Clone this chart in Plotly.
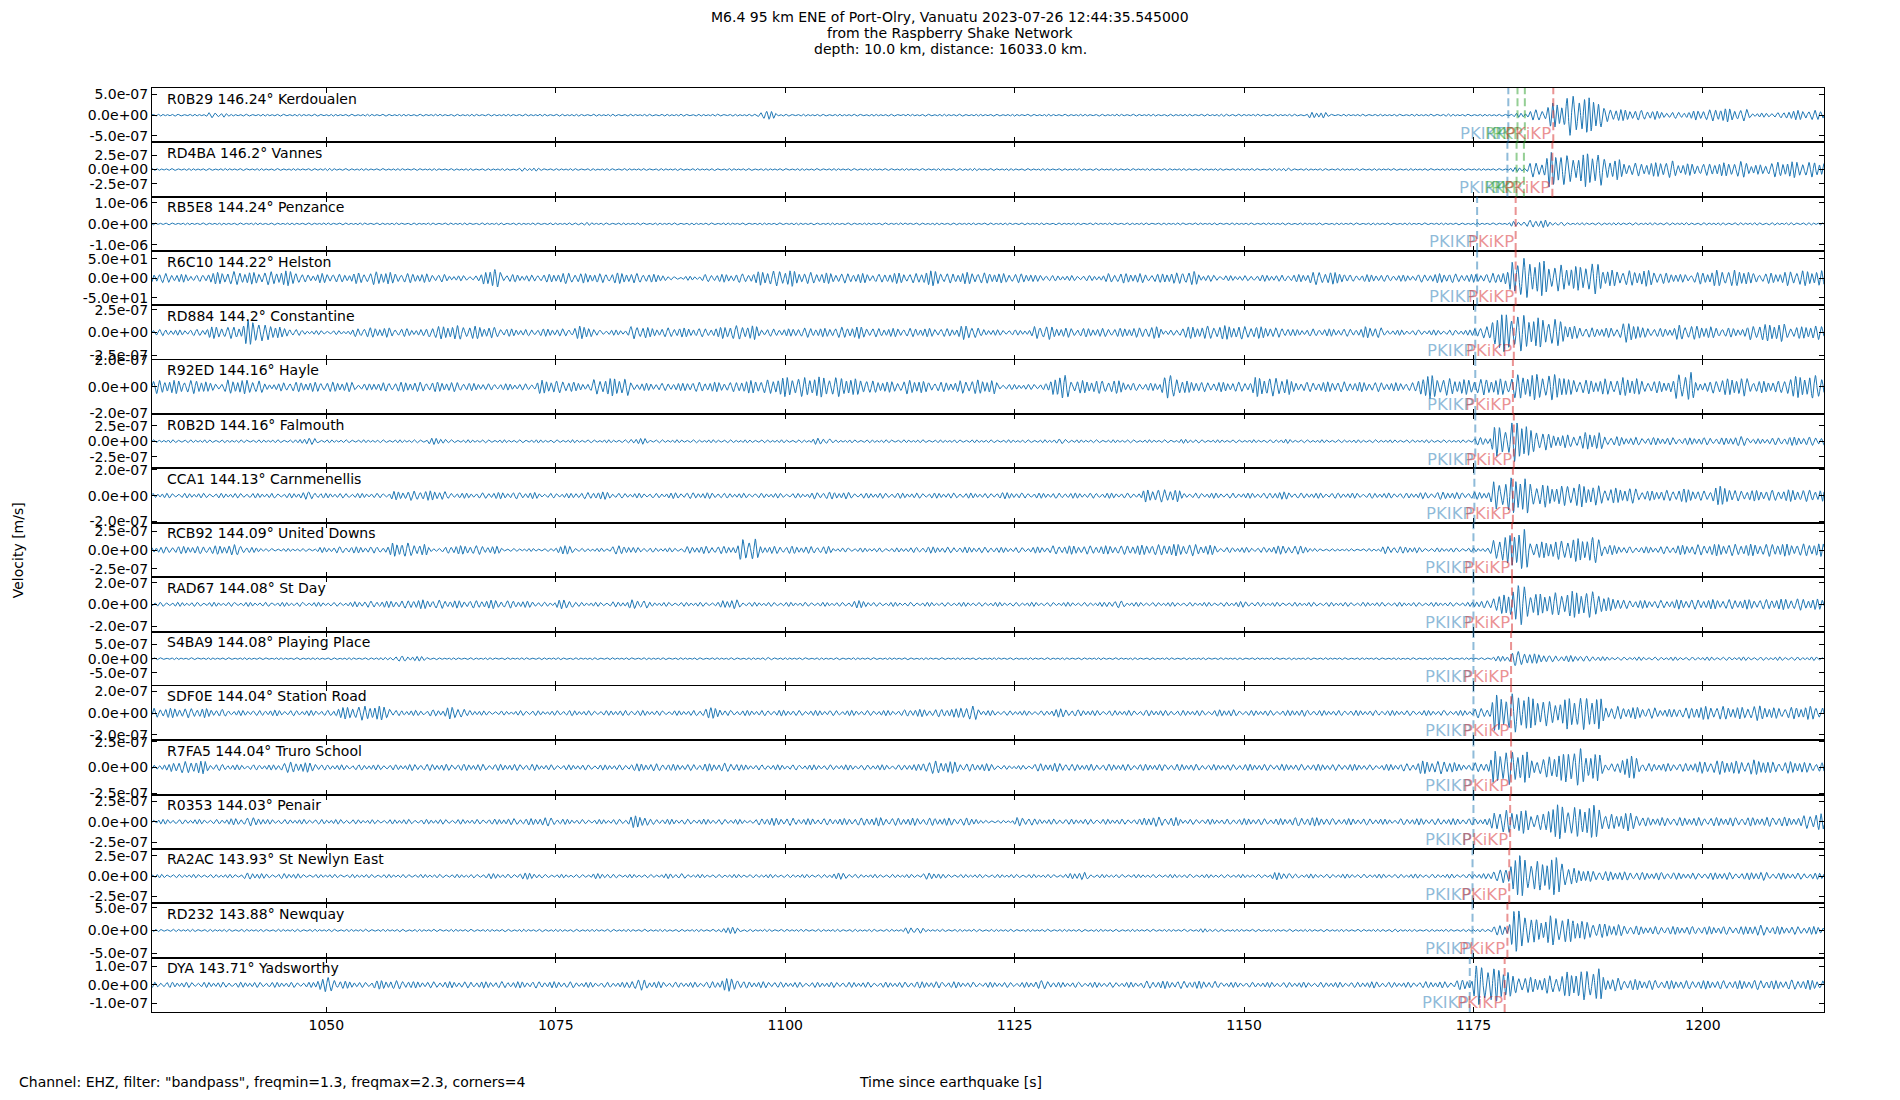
import numpy as np
import plotly.graph_objects as go
from plotly.subplots import make_subplots

# time window (s since origin); envelopes are given in 2 s blocks from t_start
t_start, t_end = 1031.0, 1213.2
block = 2.0

stations = [
    "R0B29 146.24° Kerdoualen", "RD4BA 146.2° Vannes", "RB5E8 144.24° Penzance",
    "R6C10 144.22° Helston", "RD884 144.2° Constantine", "R92ED 144.16° Hayle",
    "R0B2D 144.16° Falmouth", "CCA1 144.13° Carnmenellis", "RCB92 144.09° United Downs",
    "RAD67 144.08° St Day", "S4BA9 144.08° Playing Place", "SDF0E 144.04° Station Road",
    "R7FA5 144.04° Truro School", "R0353 144.03° Penair", "RA2AC 143.93° St Newlyn East",
    "RD232 143.88° Newquay", "DYA 143.71° Yadsworthy",
]

# y tick step and axis half range per station
ytick = [5e-7, 2.5e-7, 1e-6, 50, 2.5e-7, 2e-7, 2.5e-7, 2e-7, 2.5e-7,
         2e-7, 5e-7, 2e-7, 2.5e-7, 2.5e-7, 2.5e-7, 5e-7, 1e-7]
ymax = [6.6e-7, 4.7e-7, 1.3e-6, 70, 3.0e-7, 2.05e-7, 4.4e-7, 2.1e-7, 3.6e-7,
        2.5e-7, 9.6e-7, 2.5e-7, 2.65e-7, 3.35e-7, 3.35e-7, 6.0e-7, 1.45e-7]

# predicted arrivals (s)
t_PKIKP = [1178.8, 1178.7, 1175.4, 1175.4, 1175.2, 1175.2, 1175.2, 1175.1, 1175.0,
           1175.0, 1175.0, 1175.0, 1175.0, 1175.0, 1174.9, 1174.9, 1174.6]
t_PKiKP = [1183.7, 1183.6, 1179.6, 1179.6, 1179.4, 1179.3, 1179.4, 1179.3, 1179.2,
           1179.2, 1179.1, 1179.1, 1179.1, 1179.0, 1178.9, 1178.7, 1178.4]
t_PKP = [[1179.8, 1180.6], [1179.7, 1180.5]]

# peak amplitude per 2 s block, percent of the panel half range
env_kerdoualen = [4,4,4,10,4,4,4,4,4,4, 4,4,4,4,4,4,4,4,4,4, 4,4,4,4,4,4,4,4,4,4,
                  4,4,4,15,4,4,4,4,4,4, 4,4,4,4,4,4,4,4,4,4, 4,4,4,4,4,4,4,4,5,4,
                  4,4,4,12,4,4,4,4,4,4, 5,4,4,4,8,20,45,75,65,25, 20,18,12,12,20,25,22,8,10,18,18]
env_vannes = [4,4,4,4,4,4,4,4,4,5, 4,4,4,4,4,4,4,4,4,4, 7,4,4,4,4,4,4,4,4,4,
              4,4,4,4,4,4,4,4,4,4, 4,4,4,4,5,4,4,4,4,4, 4,4,4,4,4,4,4,4,4,4,
              4,6,4,4,4,4,4,4,4,4, 4,4,4,4,8,28,65,50,65,40, 25,25,32,22,22,25,30,18,28,30,28]
env_penzance = [4,4,4,4,4,4,4,4,4,4, 4,4,4,4,4,4,4,4,4,4, 4,4,4,6,4,4,4,4,4,4,
                4,4,4,4,4,4,4,4,4,4, 4,4,4,4,4,4,4,4,4,4, 4,4,4,4,4,4,4,4,4,4,
                4,4,4,4,4,4,4,4,4,4, 4,4,4,4,10,15,8,5,5,5, 5,5,5,5,5,5,5,5,5,5,5]
env_helston = [18,15,12,22,25,22,25,28,14,18, 15,20,25,18,17,15,10,10,33,14,
               12,15,20,18,17,20,18,15,6,8, 14,15,17,28,30,22,20,18,18,15,
               20,18,28,18,22,20,18,17,12,10, 10,10,18,18,15,20,25,12,10,10,
               12,12,14,24,22,12,14,12,12,15, 18,15,16,22,75,65,50,45,58,30,
               28,30,20,15,22,30,30,18,20,28,28]
env_constantine = [12,10,12,22,22,45,28,15,8,8, 8,18,18,15,12,24,26,24,20,14,
                   12,14,14,24,10,10,24,16,18,16, 16,26,26,14,14,18,16,20,22,16,
                   16,16,16,15,26,12,10,10,26,18, 16,16,16,18,22,10,22,24,26,24,
                   22,18,12,14,14,14,22,10,10,10, 10,10,22,70,68,55,50,24,18,18,
                   36,18,16,28,24,18,16,30,34,22,26]
env_hayle = [25,25,25,14,26,26,12,18,18,18, 18,12,16,18,18,18,18,14,12,12,
             12,25,22,14,30,34,14,14,14,18, 18,18,24,26,36,36,38,36,30,22,
             20,26,18,18,26,26,10,10,12,43, 24,24,24,14,14,43,22,18,18,18,
             36,34,18,18,20,18,18,16,16,43, 32,28,30,30,45,48,48,28,26,30,
             35,22,22,55,18,30,34,22,22,40,43]
env_falmouth = [6,6,6,6,6,6,6,6,12,6, 6,6,6,6,6,12,6,6,6,6, 6,6,6,6,6,6,11,6,6,6,
                6,6,6,6,6,6,12,6,6,6, 6,6,6,6,6,6,6,6,6,9, 6,6,6,6,6,6,8,6,6,6,
                6,8,6,6,6,6,6,6,6,6, 6,6,14,55,75,40,25,24,34,18, 15,14,14,13,14,13,18,10,14,16,16]
env_carnmenellis = [9,9,9,9,9,9,9,9,14,9, 9,9,9,16,18,18,10,10,12,12,
                    12,9,9,12,14,9,9,9,11,11, 11,9,9,9,9,9,13,13,10,10,
                    10,10,10,10,10,9,12,10,10,10, 10,10,10,10,24,24,10,10,10,10,
                    10,14,10,10,10,10,10,10,10,12, 14,12,14,55,70,43,36,43,37,28,
                    28,18,20,25,18,35,20,20,20,22,22]
env_united_downs = [12,14,14,16,20,10,6,6,6,10, 12,12,12,27,22,8,16,17,14,6,
                    6,6,16,7,7,16,10,8,8,13, 14,14,43,14,14,13,14,8,8,8,
                    8,10,12,11,11,11,10,10,12,16, 16,16,16,18,20,22,22,18,10,10,
                    10,16,16,6,5,5,6,14,12,8, 8,8,8,48,76,30,35,43,48,18,
                    12,12,14,18,20,22,22,22,24,22,24]
env_st_day = [8,8,8,8,8,8,8,8,8,8, 8,12,12,14,17,16,14,14,16,14,
              12,8,17,8,8,10,17,8,8,8, 8,17,8,8,8,8,8,8,14,8,
              8,8,8,8,8,8,8,8,8,8, 8,8,13,8,8,8,8,8,8,11,
              8,8,8,8,8,8,8,8,8,8, 8,8,14,35,75,40,43,49,49,25,
              16,15,15,18,18,18,18,18,20,22,20]
env_playing_place = [4,4,4,4,4,4,4,4,4,4, 4,4,5,10,9,4,4,4,4,4, 4,4,4,4,4,4,4,4,4,4,
                     4,4,4,5,4,4,4,4,4,4, 4,4,4,4,4,4,4,4,4,4, 4,4,4,4,4,4,4,4,4,4,
                     4,4,4,4,4,4,4,4,4,4, 4,4,4,10,27,18,12,12,10,7, 7,7,7,7,7,7,7,7,7,7,7]
env_station_road = [18,18,18,14,10,10,11,10,10,10, 22,27,26,10,10,12,22,10,8,8,
                    10,8,10,9,9,10,10,9,9,10, 20,10,10,10,11,10,10,10,10,10,
                    10,14,14,16,26,10,9,9,9,16, 12,10,10,10,11,10,10,10,13,10,
                    10,10,12,10,10,10,10,10,10,10, 10,10,18,67,73,55,43,61,61,25,
                    22,20,15,20,25,25,22,28,20,22,25]
env_truro_school = [10,22,24,12,10,10,10,20,18,10, 10,10,10,10,12,12,12,12,12,12,
                    12,10,10,10,10,10,14,14,12,12, 14,16,10,10,10,10,10,10,10,10,
                    10,12,24,22,14,14,8,8,14,16, 12,12,12,12,12,12,12,11,11,12,
                    12,12,12,12,12,12,10,12,14,24, 24,12,18,65,60,30,49,70,50,15,
                    42,15,15,15,22,26,24,28,20,22,18]
env_penair = [9,9,9,9,12,16,9,9,9,9, 9,8,8,9,9,9,9,9,10,12,
              12,16,10,9,9,10,22,10,10,10, 10,10,8,14,14,12,12,12,14,16,
              14,14,14,14,14,6,6,16,10,10, 10,10,10,10,18,16,10,10,10,12,
              12,12,16,16,12,12,12,10,12,12, 12,12,12,43,43,30,64,55,61,28,
              34,16,16,16,16,16,16,16,18,16,30]
env_st_newlyn_east = [7,7,7,7,7,12,8,10,7,7, 7,7,7,7,7,7,7,7,10,8,
                      12,7,7,7,10,7,7,7,10,7, 7,7,7,7,7,7,7,12,7,7,
                      7,7,12,7,7,7,7,7,7,7, 14,7,7,7,7,7,7,7,7,7,
                      7,14,8,8,8,8,8,8,8,8, 8,8,10,25,76,55,70,30,20,18,
                      16,14,14,12,12,14,12,16,12,12,12]
env_newquay = [5,5,5,5,5,5,5,5,5,5, 5,5,5,5,5,5,5,5,5,5, 5,5,5,5,5,5,5,5,5,5,
               5,12,5,5,5,5,5,5,5,5, 5,12,5,5,5,5,5,5,5,5, 5,5,5,5,5,5,5,7,5,5,
               5,5,5,5,5,5,5,6,5,5, 5,5,6,18,77,43,55,43,30,24, 18,15,15,15,15,15,15,20,15,15,15]
env_yadsworthy = [10,10,10,10,10,10,10,10,10,27, 14,10,16,16,12,12,12,12,12,12,
                  12,12,12,10,10,10,20,12,10,10, 12,24,12,12,10,10,10,10,10,10,
                  10,12,12,12,10,10,10,10,16,10, 10,10,10,10,14,14,14,14,10,10,
                  10,10,10,10,10,10,12,10,10,12, 12,18,73,61,32,28,35,50,61,25,
                  20,18,16,16,16,16,16,18,16,18,18]

envelopes = [env_kerdoualen, env_vannes, env_penzance, env_helston, env_constantine,
             env_hayle, env_falmouth, env_carnmenellis, env_united_downs, env_st_day,
             env_playing_place, env_station_road, env_truro_school, env_penair,
             env_st_newlyn_east, env_newquay, env_yadsworthy]

title_lines = ["M6.4 95 km ENE of Port-Olry, Vanuatu 2023-07-26 12:44:35.545000",
               "from the Raspberry Shake Network",
               "depth: 10.0 km, distance: 16033.0 km."]

n = len(stations)
t = np.arange(t_start, t_end, 0.02)
idx = np.minimum(((t - t_start) // block).astype(int), 90)
kern = np.ones(21) / 21


def wiggle(env, k):
    # ~1.75 Hz band-passed look, scaled by the block envelope
    e = np.pad(np.array(env, float)[idx], 10, mode="edge")
    e = np.convolve(e, kern, mode="valid") / 100
    wob = 0.8 + 0.2 * np.cos(2 * np.pi * t / 1.9 + 1.3 * k)
    ph = 2 * np.pi * 1.75 * t + 1.2 * np.sin(2 * np.pi * t / 3.7 + k) + 0.9 * k
    return e * wob * np.sin(ph)


blue = "rgba(31,119,180,0.5)"
red = "rgba(214,39,40,0.5)"
green = "rgba(44,160,44,0.5)"
font = "DejaVu Sans"

fig = make_subplots(rows=n, cols=1, shared_xaxes=True, vertical_spacing=0)

for k in range(n):
    r = k + 1
    fig.add_trace(go.Scatter(x=t, y=wiggle(envelopes[k], k) * ymax[k], mode="lines",
                             line=dict(color="#1f77b4", width=1), showlegend=False,
                             hoverinfo="skip"), row=r, col=1)
    v = ytick[k]
    fig.update_yaxes(range=[-ymax[k], ymax[k]], tickvals=[-v, 0, v],
                     ticktext=[f"{-v:.1e}", "0.0e+00", f"{v:.1e}"], row=r, col=1)
    xr = "x" if r == 1 else f"x{r}"
    yr = "y" if r == 1 else f"y{r}"

    fig.add_annotation(text=stations[k], xref=f"{xr} domain", yref=f"{yr} domain",
                       x=0.008, y=0.99, xanchor="left", yanchor="top", showarrow=False,
                       font=dict(family=font, size=14, color="black"))

    phases = [("PKIKP", t_PKIKP[k], blue)]
    if k < len(t_PKP):
        phases += [("PKP", tp, green) for tp in t_PKP[k]]
    phases.append(("PKiKP", t_PKiKP[k], red))
    for name, tp, col in phases:
        fig.add_shape(type="line", xref=xr, yref=f"{yr} domain", x0=tp, x1=tp, y0=0, y1=1,
                      line=dict(color=col, width=2, dash="8px,4px"))
        fig.add_annotation(text=name, xref=xr, yref=f"{yr} domain", x=tp, y=0.17,
                           xanchor="right", yanchor="middle", showarrow=False,
                           font=dict(family=font, size=16.5, color=col))

fig.update_xaxes(range=[t_start, t_end], tickvals=[1050, 1075, 1100, 1125, 1150, 1175, 1200],
                 ticks="inside", ticklen=5, tickcolor="black", showline=True, linecolor="black",
                 linewidth=1, mirror="ticks", showgrid=False, zeroline=False,
                 tickfont=dict(family=font, size=14, color="black"))
fig.update_yaxes(ticks="inside", ticklen=5, tickcolor="black", showline=True, linecolor="black",
                 linewidth=1, mirror="ticks", showgrid=False, zeroline=False,
                 tickfont=dict(family=font, size=14, color="black"))

# title lines sit above the plot area, in paper units of its 924 px height
for line, ypx in zip(title_lines, [17, 33, 49]):
    fig.add_annotation(text=line, xref="paper", yref="paper", x=0.4773,
                       y=(1012 - ypx) / 924, showarrow=False, xanchor="center",
                       yanchor="middle", font=dict(family=font, size=14, color="black"))

fig.add_annotation(text="Velocity [m/s]", xref="paper", yref="paper", x=-0.08, y=0.5,
                   textangle=-90, showarrow=False, xanchor="center", yanchor="middle",
                   font=dict(family=font, size=14, color="black"))
fig.add_annotation(text="Time since earthquake [s]", xref="paper", yref="paper", x=0.4773,
                   y=-0.0758, showarrow=False, xanchor="center", yanchor="middle",
                   font=dict(family=font, size=14, color="black"))
fig.add_annotation(text='Channel: EHZ, filter: "bandpass", freqmin=1.3, freqmax=2.3, corners=4',
                   xref="paper", yref="paper", x=-0.0805, y=-0.0758, showarrow=False,
                   xanchor="left", yanchor="middle",
                   font=dict(family=font, size=14, color="black"))

# the page body adds an 8 px offset, so margins are shifted to keep the plot area in place
fig.update_layout(
    width=1900, height=1100,
    margin=dict(l=144, r=84, t=80, b=96),
    paper_bgcolor="white", plot_bgcolor="white",
    hovermode=False,
)

fig.write_html("out.html")
